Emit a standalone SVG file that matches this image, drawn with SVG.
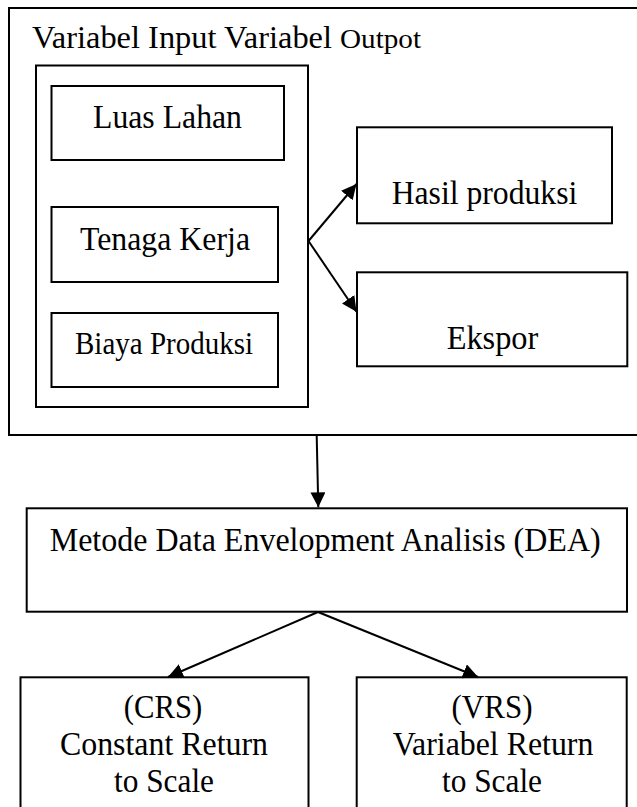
<svg xmlns="http://www.w3.org/2000/svg" width="637" height="807" viewBox="0 0 637 807">
<style>
.box{fill:#fff;stroke:#000;stroke-width:2}
.frame{fill:none;stroke:#000;stroke-width:2}
.t{font-family:"Liberation Serif","Times New Roman",serif;font-size:34px;fill:#000}
.m{text-anchor:middle}
.c{fill:none;stroke:#000;stroke-width:2}
</style>
<defs>
<marker id="ah" markerUnits="userSpaceOnUse" markerWidth="16" markerHeight="15" refX="15" refY="7.5" orient="auto">
<path d="M0,0 L15,7.5 L0,15 Z" fill="#000"/>
</marker>
</defs>
<rect width="637" height="807" fill="#fff"/>
<g id="outer">
<rect class="frame" x="9" y="8" width="640" height="427"/>
<text class="t" x="32" y="48" style="font-size:32px" textLength="300" lengthAdjust="spacingAndGlyphs">Variabel Input Variabel</text>
<text class="t" x="340" y="48" style="font-size:27px" textLength="81" lengthAdjust="spacingAndGlyphs">Outpot</text>
</g>
<g id="input-group">
<rect class="frame" x="36" y="65.5" width="272" height="341.5"/>
</g>
<g id="luas-lahan">
<rect class="box" x="51.5" y="86" width="232.5" height="74"/>
<text class="t m" x="167.5" y="127.7" textLength="149" lengthAdjust="spacingAndGlyphs">Luas Lahan</text>
</g>
<g id="tenaga-kerja">
<rect class="box" x="51.5" y="207" width="226.5" height="75"/>
<text class="t m" x="165" y="250" textLength="170" lengthAdjust="spacingAndGlyphs">Tenaga Kerja</text>
</g>
<g id="biaya-produksi">
<rect class="box" x="51.5" y="313" width="226.5" height="74"/>
<text class="t m" x="164" y="354" style="font-size:31px" textLength="178" lengthAdjust="spacingAndGlyphs">Biaya Produksi</text>
</g>
<g id="hasil-produksi">
<rect class="box" x="357" y="127.3" width="255" height="96"/>
<text class="t m" x="484.5" y="204.3" textLength="185.6" lengthAdjust="spacingAndGlyphs">Hasil produksi</text>
</g>
<g id="ekspor">
<rect class="box" x="357" y="272.3" width="270.3" height="94"/>
<text class="t m" x="492.5" y="349.3" textLength="91.7" lengthAdjust="spacingAndGlyphs">Ekspor</text>
</g>
<g id="dea">
<rect class="box" x="26.7" y="508.3" width="600.3" height="103.4"/>
<text class="t m" x="325.2" y="550.7" style="font-size:33px" textLength="551" lengthAdjust="spacingAndGlyphs">Metode Data Envelopment Analisis (DEA)</text>
</g>
<g id="crs">
<rect class="box" x="20.5" y="677.3" width="288" height="140"/>
<text class="t m" x="163" y="718.3" style="font-size:33px" textLength="78.4" lengthAdjust="spacingAndGlyphs">(CRS)</text>
<text class="t m" x="164" y="755" style="font-size:33px" textLength="208" lengthAdjust="spacingAndGlyphs">Constant Return</text>
<text class="t m" x="164" y="791.7" style="font-size:33px" textLength="100" lengthAdjust="spacingAndGlyphs">to Scale</text>
</g>
<g id="vrs">
<rect class="box" x="356.7" y="677.3" width="270" height="140"/>
<text class="t m" x="492" y="718.3" style="font-size:33px" textLength="81" lengthAdjust="spacingAndGlyphs">(VRS)</text>
<text class="t m" x="493" y="755" style="font-size:33px" textLength="200.7" lengthAdjust="spacingAndGlyphs">Variabel Return</text>
<text class="t m" x="492" y="791.7" style="font-size:33px" textLength="100" lengthAdjust="spacingAndGlyphs">to Scale</text>
</g>
<g id="connectors">
<line class="c" x1="308.5" y1="241" x2="356.5" y2="184" marker-end="url(#ah)"/>
<line class="c" x1="308.5" y1="241" x2="356.5" y2="311.7" marker-end="url(#ah)"/>
<line class="c" x1="316.7" y1="436" x2="318.3" y2="507.3" marker-end="url(#ah)"/>
<line class="c" x1="318" y1="612" x2="168" y2="677" marker-end="url(#ah)"/>
<line class="c" x1="318" y1="612" x2="478" y2="677" marker-end="url(#ah)"/>
</g>
</svg>
